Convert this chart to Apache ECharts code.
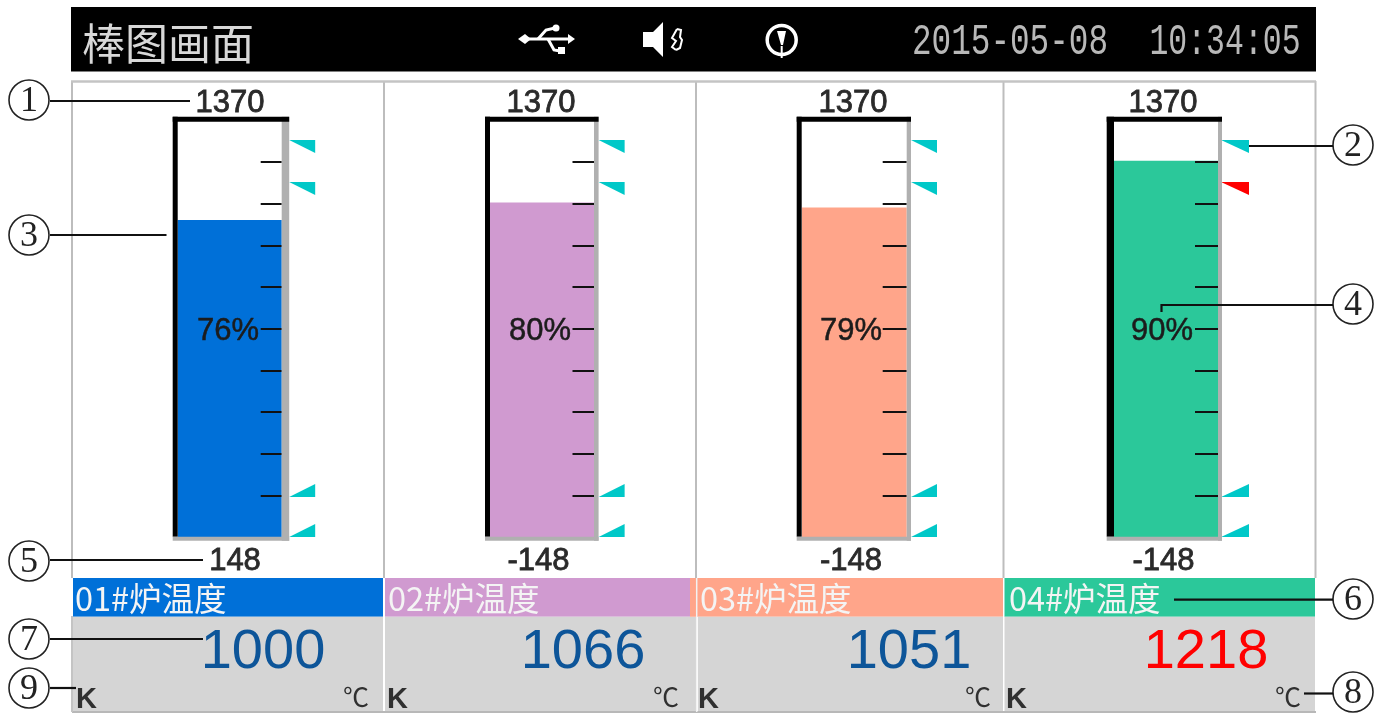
<!DOCTYPE html>
<html><head><meta charset="utf-8">
<style>html,body{margin:0;padding:0;background:#fff}#c{width:1386px;height:713px}</style>
<script src="https://cdn.jsdelivr.net/npm/echarts@6/dist/echarts.min.js"></script>
</head><body><div id="c"></div>
<script>
const channels = ['01#炉温度','02#炉温度','03#炉温度','04#炉温度'];
const readings = ['1000','1066','1051','1218'];
const percentLabels = ['76%','80%','79%','90%'];
const barLevels = [76.1,80.3,79.1,90.3];
const rangeTop = ['1370','1370','1370','1370'];
const rangeBottom = ['148','-148','-148','-148'];
const sensor = ['K','K','K','K'];
const unit = ['℃','℃','℃','℃'];
const barColors = ['#0070d8','#d09ad0','#ffa58a','#2bc89a'];
const readingColors = ['#0d5599','#0d5599','#0d5599','#ff0000'];
const alarmLevels = [95.3,85.2,9.6,0];
const alarmColors = [
  ['#00c8c8','#00c8c8','#00c8c8','#00c8c8'],
  ['#00c8c8','#00c8c8','#00c8c8','#00c8c8'],
  ['#00c8c8','#00c8c8','#00c8c8','#00c8c8'],
  ['#00c8c8','#ff0000','#00c8c8','#00c8c8']
];
const tickValues = [10,20,30,40,50,60,70,80,90];

// layout of each channel: frame edges and text anchors
const blackL = [172.7,485,796.7,1106.7];
const fillL  = [177.7,490,802,1114];
const fillR  = [281.7,594,906.7,1218];
const grayR  = [289.2,598.6,911,1222];
const tickLen= [21,21.5,24,23];
const topX   = [230,541,853,1163];
const botX   = [235,538.5,851,1163.5];
const pctR   = [259,571,882,1193];
const bigX   = [263,583,909,1206];
const labelX = [75,388,700,1009];
const kX     = [76,387,698,1006];
const degR   = [369,679,991,1301];
const bandL  = [73,385,690,1004.5], bandR=[383,690,1003,1315];
const greyL  = [73,385,698,1004.5], greyR=[383,696,1003,1315];
const gridT=120.3, gridB=537;
const sans='"Liberation Sans",Arial,sans-serif', cjk='"Noto Sans CJK SC",sans-serif', serif='"Liberation Serif",serif';

const g=[];
const rect=(x,y,w,h,fill,z)=>g.push({type:'rect',z:z||0,shape:{x,y,width:w,height:h},style:{fill}});
const line=(x1,y1,x2,y2,stroke,lw,z)=>g.push({type:'line',z:z||0,shape:{x1,y1,x2,y2},style:{stroke,lineWidth:lw}});
const text=(x,y,t,size,fill,align,font,weight,z,extra,sw)=>g.push(Object.assign({type:'text',z:z||5,x,y,style:Object.assign({text:t,fontSize:size,fontFamily:font||sans,fontWeight:weight||'normal',fill,textAlign:align||'center',textVerticalAlign:'middle'},sw?{stroke:fill,lineWidth:sw}:{})},extra||{}));
const poly=(pts,fill)=>g.push({type:'polygon',z:5,shape:{points:pts},style:{fill}});
const pline=(pts,stroke,lw)=>g.push({type:'polyline',z:5,shape:{points:pts},style:{stroke,lineWidth:lw,fill:'none'}});

// header
rect(71,7,1245,64.5,'#000');
text(82,44,'棒图画面',43,'#d8d8d8','left',cjk,'normal');
// usb icon
pline([[525,39],[572,39]],'#fff',3);
poly([[518,39],[525,34],[531,39],[525,44]],'#fff');
poly([[568,34],[575,39],[568,44]],'#fff');
pline([[538,39],[546,30],[555,28]],'#fff',3);
g.push({type:'circle',z:5,shape:{cx:556,cy:28,r:3.5},style:{fill:'#fff'}});
pline([[548,39],[554,50],[560,51]],'#fff',3);
rect(558,47,7,7,'#fff',5);
// speaker icon
poly([[643,32],[653,32],[663,22],[663,57],[653,47],[643,47]],'#fff');
pline([[677,29],[681,30],[680,37],[682,40],[680,48],[676,50]],'#fff',2);
pline([[677,29],[672,38],[676,41],[672,47],[676,50]],'#fff',2);
// warning icon
g.push({type:'circle',z:5,shape:{cx:781.7,cy:40,r:14.5},style:{fill:'none',stroke:'#fff',lineWidth:3.5}});
poly([[777,31],[786,31],[783,45],[781,45]],'#fff');
line(781.7,46,781.7,58,'#fff',2,5);
// clock
text(1010,42,'2015-05-08',30,'#b8b8b8','center','"Liberation Mono",monospace','normal',5,{scaleX:1.09,scaleY:1.5});
text(1225,42,'10:34:05',30,'#b8b8b8','center','"Liberation Mono",monospace','normal',5,{scaleX:1.05,scaleY:1.5});

// panel dividers
const div=[72,384,696,1003.5,1315.5];
div.forEach(x=>line(x,81,x,578,'#bdbdbd',2));
line(71,81.5,1316,81.5,'#c4c4c4',2.5);
line(72,712,1316,712,'#b8b8b8',2);
line(72,616,72,712,'#c4c4c4',2);

channels.forEach((name,i)=>{
  rect(bandL[i],578,bandR[i]-bandL[i],38.7,barColors[i]);
  rect(greyL[i],616.7,greyR[i]-greyL[i],94.3,'#d5d5d5');
  // bar frame
  rect(blackL[i],116.7,5+(blackL[i]===1106.7?2.3:0),420,'#000',10);
  rect(fillR[i],116.7,grayR[i]-fillR[i],424,'#b0b0b0',10);
  rect(blackL[i],116.7,grayR[i]-blackL[i],5,'#000',11);
  rect(blackL[i],536.7,grayR[i]-blackL[i],4,'#b0b0b0',11);
  text(topX[i],103,rangeTop[i],31,'#2a2a2a',null,null,null,null,null,0.8);
  text(botX[i],561.5,rangeBottom[i],31,'#2a2a2a',null,null,null,null,null,0.8);
  text(pctR[i],331,percentLabels[i],31,'#1c1c1c','right',sans,'normal',12,null,0.5);
  text(labelX[i],599,name,32.5,'#f4f4f4','left',cjk);
  text(bigX[i],653,readings[i],56,readingColors[i]);
  text(kX[i],700,sensor[i],29,'#303030','left',sans,'bold');
  text(degR[i],697,unit[i],26,'#303030','right',cjk);
});
line(696.7,578,696.7,712,'#f2f2f2',1.5,6);

// callouts
const callouts=[
 ['1',29,100,[[50,101],[190,101]]],
 ['3',29,235,[[50,235],[166.5,235]]],
 ['5',29,561,[[50,560],[203,560]]],
 ['7',29,639,[[50,639],[203,639]]],
 ['9',29,688,[[50,688],[76,688]]],
 ['2',1353,145,[[1249,146],[1333,146]]],
 ['4',1353,304,[[1333,305],[1161.5,305],[1161.5,312]]],
 ['6',1353,599,[[1174,599.7],[1333,599.7]]],
 ['8',1353,692,[[1304,693.5],[1333,693.5]]]
];
callouts.forEach(([n,cx,cy,pts])=>{
  g.push({type:'circle',z:13,shape:{cx,cy,r:20},style:{fill:'none',stroke:'#222',lineWidth:1.6}});
  text(cx,cy+2,n,36,'#222','center',serif,'normal',13);
  pline(pts,'#111',2.2);
  g[g.length-1].z=13;
});

// per-channel grids, axes and series
const grid=[],xAxis=[],yAxis=[],series=[];
channels.forEach((name,i)=>{
  grid.push({left:fillL[i],width:fillR[i]-fillL[i],top:gridT,height:gridB-gridT,containLabel:false});
  xAxis.push({type:'category',gridIndex:i,data:[name],show:false});
  yAxis.push({type:'value',gridIndex:i,min:0,max:100,interval:10,position:'right',z:4,
    splitLine:{show:false},axisLabel:{show:false},axisLine:{show:false},
    axisTick:{show:true,inside:true,length:tickLen[i],customValues:tickValues,lineStyle:{color:'#111',width:2}}});
  series.push({type:'bar',name,xAxisIndex:i,yAxisIndex:i,data:[barLevels[i]],barWidth:'100%',itemStyle:{color:barColors[i]},silent:true,animation:false});
  series.push({type:'custom',xAxisIndex:i,yAxisIndex:i,clip:false,z:6,silent:true,animation:false,
    data:alarmLevels.map((v,k)=>[0,v,k]),
    renderItem:(p,api)=>{
      const pt=api.coord([0,api.value(1)]);
      const k=api.value(2);
      const tx=grayR[i]-(i===3?1:0),w=grayR[i]===1222?28:26;
      const dir=k<2?1:-1;
      return {type:'polygon',shape:{points:[[tx,pt[1]],[tx+w,pt[1]],[tx+w,pt[1]+dir*13]]},style:{fill:alarmColors[i][k]}};
    }});
});

const chart=echarts.init(document.getElementById('c'),null,{renderer:'canvas',width:1386,height:713});
chart.setOption({animation:false,backgroundColor:'#fff',grid,xAxis,yAxis,series,graphic:{elements:g}});
</script></body></html>
